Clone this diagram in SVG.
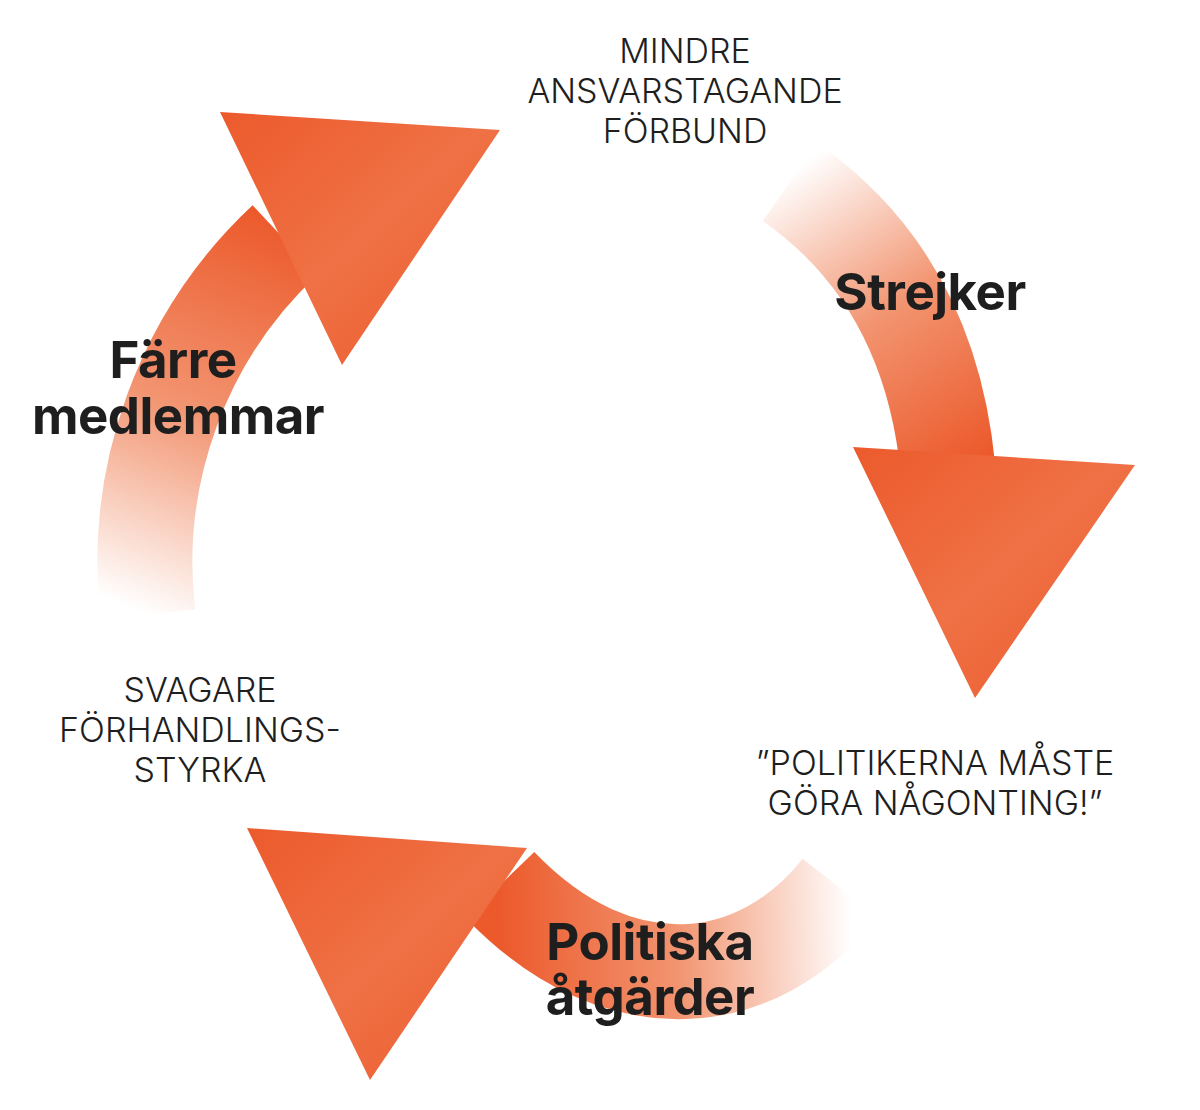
<svg xmlns="http://www.w3.org/2000/svg" width="1200" height="1110" viewBox="0 0 1200 1110">
<defs>
<linearGradient id="gL" gradientUnits="userSpaceOnUse" x1="150" y1="615" x2="300" y2="230"><stop offset="0" stop-color="#fff"/><stop offset="0.5" stop-color="#f29470"/><stop offset="1" stop-color="#ec5a2c"/></linearGradient>
<linearGradient id="gR" gradientUnits="userSpaceOnUse" x1="770" y1="185" x2="960" y2="470"><stop offset="0" stop-color="#fff"/><stop offset="0.5" stop-color="#f29470"/><stop offset="1" stop-color="#ec5a2c"/></linearGradient>
<linearGradient id="gB" gradientUnits="userSpaceOnUse" x1="850" y1="880" x2="500" y2="890"><stop offset="0" stop-color="#fff"/><stop offset="0.5" stop-color="#f29470"/><stop offset="1" stop-color="#ec5a2c"/></linearGradient>
<linearGradient id="gT" x1="0" y1="0" x2="1" y2="1"><stop offset="0" stop-color="#ec5a2c"/><stop offset="0.5" stop-color="#ef7145"/><stop offset="1" stop-color="#ec5a2c"/></linearGradient>
<style>
.b{fill:none;stroke-width:95}
.t{font-family:Inter,"Liberation Sans",sans-serif;fill:#1e1e1e;text-anchor:middle}
.s{font-size:34px;font-weight:300}
.h{font-size:51px;font-weight:700;letter-spacing:-0.5px}
</style>
</defs>
<g id="connectors">
<path class="b" stroke="url(#gL)" d="M148,615 A442,442 0 0 1 285,240"/>
<polygon fill="url(#gT)" points="220,112 500,130 342,365"/>
<path class="b" stroke="url(#gR)" d="M790,182 Q930,280 948,470"/>
<polygon fill="url(#gT)" points="853,447 1135,465 975,698"/>
<path class="b" stroke="url(#gB)" d="M840,888 C760,990 620,1010 500,885"/>
<polygon fill="url(#gT)" points="247,828 527,848 370,1080"/>
</g>
<g id="n1"><text class="t s" x="685" y="63">MINDRE</text><text class="t s" x="685" y="103">ANSVARSTAGANDE</text><text class="t s" x="685" y="143">FÖRBUND</text></g>
<g id="n2"><text class="t h" x="930" y="310">Strejker</text></g>
<g id="n3"><text class="t s" x="935" y="775">”POLITIKERNA MÅSTE</text><text class="t s" x="935" y="815">GÖRA NÅGONTING!”</text></g>
<g id="n4"><text class="t h" x="650" y="960">Politiska</text><text class="t h" x="650" y="1015">åtgärder</text></g>
<g id="n5"><text class="t s" x="200" y="702">SVAGARE</text><text class="t s" x="200" y="742">FÖRHANDLINGS-</text><text class="t s" x="200" y="782">STYRKA</text></g>
<g id="n6"><text class="t h" x="173" y="378">Färre</text><text class="t h" x="178" y="434">medlemmar</text></g>
</svg>
